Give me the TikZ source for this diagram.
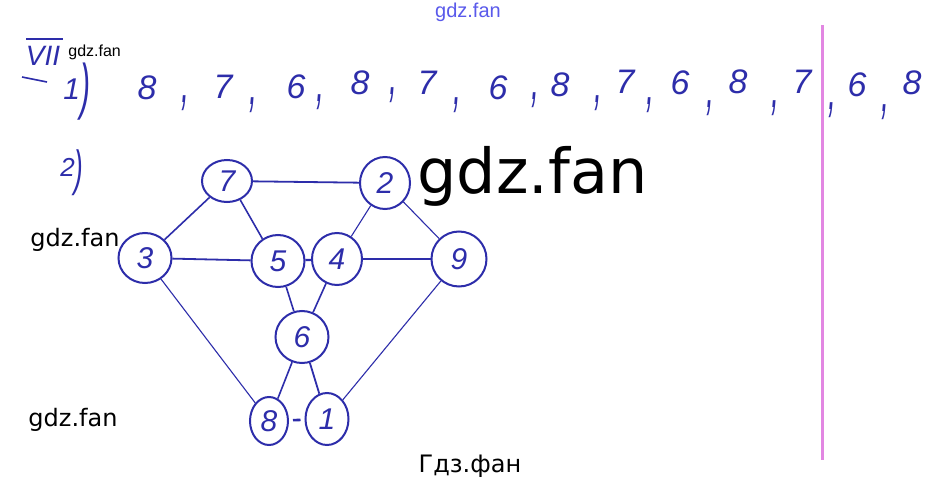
\documentclass[tikz,border=0pt]{standalone}
\usepackage{fontspec}
\setmainfont{DejaVu Sans}
\newfontfamily\hand{Liberation Sans}
\newfontfamily\wmsmall{Liberation Sans}
\usetikzlibrary{shapes.geometric}
\definecolor{ink}{RGB}{45,45,170}
\definecolor{pinkline}{RGB}{226,135,226}
\definecolor{wmblue}{RGB}{90,90,235}
\newcommand{\tick}{\scalebox{0.7}[1.6]{,}}
\begin{document}
\begin{tikzpicture}[x=0.5pt,y=-0.5pt,
 vtx/.style={draw=ink, line width=1pt, ellipse, inner sep=0pt, text=ink, font=\hand\itshape\fontsize{15}{15}\selectfont},
 edge/.style={draw=ink, line width=0.8pt},
 thinedge/.style={draw=ink, line width=0.55pt},
 dig/.style={text=ink, font=\hand\itshape\fontsize{17}{17}\selectfont, inner sep=0pt},
 commark/.style={text=ink, font=\hand\itshape\fontsize{20}{20}\selectfont, inner sep=0pt},
 lbl/.style={text=ink, font=\hand\itshape, inner sep=0pt},
 wm/.style={font=\fontsize{12}{12}\selectfont, inner sep=0pt, text=black}]
\useasboundingbox[fill=white] (0,0) rectangle (934,493);

% pink margin line
\coordinate (pt) at (822,25);
\coordinate (pb) at (822,460);
\draw[pinkline, line width=1.5pt] (pt) -- (pb);

% heading
\node[lbl, font=\hand\itshape\fontsize{14}{14}\selectfont] (vii) at (43,56) {VII};
\coordinate (ol1) at (26,39);
\coordinate (ol2) at (63,39);
\draw[ink, line width=0.8pt] (ol1) -- (ol2);
\coordinate (d1) at (22,77);
\coordinate (d2) at (47,82);
\draw[ink, line width=0.8pt] (d1) -- (d2);

\node[lbl, anchor=base west] (p1) at (63,107) {\fontsize{15}{15}\selectfont\raisebox{4pt}{1}\scalebox{1}[2.05]{)}};
\node[lbl, anchor=base west] (p2) at (60,185) {\fontsize{13}{13}\selectfont\raisebox{4.3pt}{2}\scalebox{1}[1.9]{)}};

% sequence
\node[dig] (s1) at (147,88) {8};
\node[commark] (c1) at (185,103) {\tick};
\node[dig] (s2) at (223,87) {7};
\node[commark] (c2) at (253,105) {\tick};
\node[dig] (s3) at (296,87) {6};
\node[commark] (c3) at (320,102) {\tick};
\node[dig] (s4) at (360,83) {8};
\node[commark] (c4) at (393,95) {\tick};
\node[dig] (s5) at (427,83) {7};
\node[commark] (c5) at (457,105) {\tick};
\node[dig] (s6) at (498,88) {6};
\node[commark] (c6) at (535,100) {\tick};
\node[dig] (s7) at (560,85) {8};
\node[commark] (c7) at (598,103) {\tick};
\node[dig] (s8) at (625,82) {7};
\node[commark] (c8) at (650,105) {\tick};
\node[dig] (s9) at (680,83) {6};
\node[commark] (c9) at (710,108) {\tick};
\node[dig] (s10) at (738,82) {8};
\node[commark] (c10) at (775,108) {\tick};
\node[dig] (s11) at (802,82) {7};
\node[commark] (c11) at (832,110) {\tick};
\node[dig] (s12) at (857,85) {6};
\node[commark] (c12) at (885,112) {\tick};
\node[dig] (s13) at (912,83) {8};

% graph
\node[vtx, minimum width=25pt, minimum height=21pt] (n7) at (227,181) {7};
\node[vtx, minimum width=25pt, minimum height=26pt] (n2) at (385,183) {2};
\node[vtx, minimum width=26.5pt, minimum height=25pt] (n3) at (145,258) {3};
\node[vtx, minimum width=26.5pt, minimum height=26pt] (n5) at (278,261) {5};
\node[vtx, minimum width=25pt, minimum height=26pt] (n4) at (337,259) {4};
\node[vtx, minimum width=27.5pt, minimum height=27.5pt] (n9) at (459,259) {9};
\node[vtx, minimum width=26.5pt, minimum height=26pt] (n6) at (302,337) {6};
\node[vtx, minimum width=19pt, minimum height=24pt] (n8) at (269,421) {8};
\node[vtx, minimum width=21.5pt, minimum height=26pt] (n1) at (327,419) {1};

\draw[edge, line width=0.9pt] (n7) -- (n2);
\draw[edge] (n7) -- (n3);
\draw[edge] (n7.-55) -- (n5.125);
\draw[edge, line width=0.9pt] (n3) -- (n5);
\draw[edge, line width=1.1pt] (n5) -- (n4);
\draw[edge, line width=0.9pt] (n4) -- (n9);
\draw[thinedge] (n2) -- (n4);
\draw[thinedge] (n2) -- (n9);
\draw[edge] (n5) -- (n6);
\draw[edge] (n4) -- (n6);
\draw[thinedge] (n3) -- (n8);
\draw[edge] (n6) -- (n8);
\draw[edge, line width=0.9pt] (n6) -- (n1);
\draw[edge, line width=1.3pt, shorten <=2pt, shorten >=2pt] (n8) -- (n1);
\draw[thinedge] (n9) -- (n1);

% watermarks
\node[inner sep=0pt, text=wmblue, font=\wmsmall\fontsize{10}{10}\selectfont] (w0) at (468,12) {gdz.fan};
\node[inner sep=0pt, anchor=base west, font=\wmsmall\fontsize{8}{8}\selectfont] (w1) at (68,56) {gdz.fan};
\node[inner sep=0pt, anchor=base west, font=\fontsize{31}{31}\selectfont] (w2) at (417,193) {gdz.fan};
\node[wm] (w3) at (75,240) {gdz.fan};
\node[wm] (w4) at (73,420) {gdz.fan};
\node[wm] (w5) at (470,466) {Гдз.фан};
\end{tikzpicture}
\end{document}
